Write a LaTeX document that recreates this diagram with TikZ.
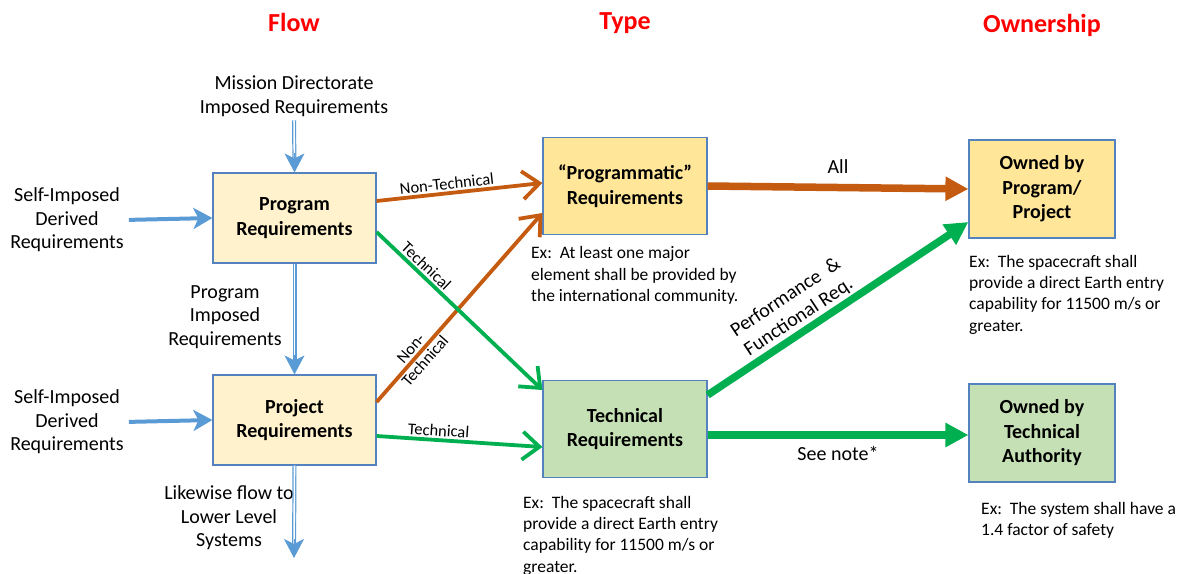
\documentclass[tikz,border=0pt]{standalone}
\usepackage{fontspec}
\setmainfont{Carlito}
\usetikzlibrary{arrows.meta}

\definecolor{flowblue}{RGB}{91,155,213}
\definecolor{boxline}{RGB}{84,130,190}
\definecolor{cream}{RGB}{255,242,204}
\definecolor{gold}{RGB}{255,230,153}
\definecolor{sage}{RGB}{197,224,180}
\definecolor{rust}{RGB}{197,90,17}
\definecolor{leaf}{RGB}{0,176,80}

\begin{document}
\begin{tikzpicture}[x=1pt,y=-1pt,
    reqbox/.style={draw=boxline, line width=1.2pt, align=center, inner sep=0pt,
      font=\bfseries\fontsize{20}{24.5}\selectfont},
    heading/.style={text=red, font=\bfseries\fontsize{26}{30}\selectfont},
    source/.style={align=center, inner sep=0pt, font=\fontsize{20}{23.5}\selectfont},
    example/.style={align=left, anchor=west, inner sep=0pt, font=\fontsize{17.5}{21.3}\selectfont},
    tag/.style={sloped, inner sep=2pt, font=\fontsize{16.5}{19}\selectfont},
    bigtag/.style={inner sep=2pt, font=\fontsize{20}{23.5}\selectfont},
    dbl/.style={draw=flowblue, line width=1.2pt, double=white, double distance=1.6pt},
    bluehead/.style={draw=flowblue, fill=flowblue, line width=0.8pt,
      -{Stealth[length=19pt,width=20pt,inset=5pt]}},
    feed/.style={draw=flowblue, line width=4pt,
      -{Stealth[length=19pt,width=21pt,inset=5pt]}},
    thinrust/.style={draw=rust, line width=3.8pt, -{Straight Barb[length=17pt,width=28pt]}},
    thinleaf/.style={draw=leaf, line width=3.8pt, -{Straight Barb[length=17pt,width=28pt]}},
    fatrust/.style={draw=rust, line width=7.5pt, -{Triangle[length=23pt,width=23pt]}},
    fatleaf/.style={draw=leaf, line width=7.5pt, -{Triangle[length=23pt,width=23pt]}}]

  \useasboundingbox (0,0) rectangle (1185,573);

  \node[heading] (flowhd)  at (294,22)  {Flow};
  \node[heading] (typehd)  at (625,23)  {Type};
  \node[heading] (ownhd)   at (1042,25) {Ownership};

  \begin{scope}[every node/.style={reqbox}]
    \node[fill=cream, minimum width=163pt, minimum height=90pt] (prog) at (294.5,218) {Program\\Requirements};
    \node[fill=cream, minimum width=163pt, minimum height=90pt] (proj) at (294.5,420) {Project\\Requirements};
    \node[fill=gold, minimum width=164pt, minimum height=97pt]  (pgm)  at (625,186)   {``Programmatic''\\Requirements};
    \node[fill=sage, minimum width=164pt, minimum height=97pt]  (tech) at (625,429)   {Technical\\Requirements};
    \node[fill=gold, minimum width=146pt, minimum height=98pt]  (ownp) at (1042,189)  {Owned by\\Program/\\Project};
    \node[fill=sage, minimum width=146pt, minimum height=98pt]  (ownt) at (1042,433)  {Owned by\\Technical\\Authority};
  \end{scope}

  \begin{scope}[every node/.style={source}]
    \node (mission) at (294,96)  {Mission Directorate\\Imposed Requirements};
    \node (self1)   at (67,220)  {Self-Imposed\\Derived\\Requirements};
    \node (self2)   at (67,422)  {Self-Imposed\\Derived\\Requirements};
    \node (handed)  at (225,317) {Program\\Imposed\\Requirements};
    \node (likewise) at (229,518) {Likewise flow to\\Lower Level\\Systems};
  \end{scope}

  \begin{scope}[every node/.style={example}]
    \node (expgm)  at (531,275.5) {Ex:\ \ At least one major\\element shall be provided by\\the international community.};
    \node (extech) at (523,535.5) {Ex:\ \ The spacecraft shall\\provide a direct Earth entry\\capability for 11500 m/s or\\greater.};
    \node (exownp) at (969,294.5) {Ex:\ \ The spacecraft shall\\provide a direct Earth entry\\capability for 11500 m/s or\\greater.};
    \node (exownt) at (981,520.5) {Ex:\ \ The system shall have a\\1.4 factor of safety};
  \end{scope}

  \coordinate (lower) at (294,558);

  \draw[dbl, shorten <=4pt, shorten >=10pt] (mission.south) -- (prog.north);
  \draw[bluehead] ([yshift=19pt]prog.north) -- (prog.north);
  \draw[dbl, shorten >=10pt] (prog.south) -- (proj.north);
  \draw[bluehead] ([yshift=19pt]proj.north) -- (proj.north);
  \draw[dbl, shorten >=10pt] (proj.south) -- (lower);
  \draw[bluehead] ([yshift=19pt]lower) -- (lower);

  \draw[feed, shorten <=5pt] (self1.east) -- (prog.west);
  \draw[feed, shorten <=5pt] (self2.east) -- (proj.west);

  \path ([yshift=17pt]prog.east)  edge[thinrust] node[tag, above, pos=.43] {Non-Technical} ([yshift=3pt]pgm.west);
  \path ([yshift=18pt]proj.east)  edge[thinrust] node[tag, align=center, pos=.25] {Non-\\Technical} ([yshift=-27pt]pgm.west);
  \path ([yshift=-14pt]prog.east) edge[thinleaf] node[tag, above, pos=.26] {Technical} ([yshift=39pt]tech.west);
  \path ([yshift=-16pt]proj.east) edge[thinleaf] node[tag, above, pos=.37] {Technical} ([yshift=-18pt]tech.west);

  \path (pgm.east) edge[fatrust] node[bigtag, above=8pt] {All} (ownp.west);
  \path ([yshift=34pt]tech.east) edge[fatleaf] node[bigtag, sloped, above, align=center, pos=.38] {Performance\ \ \&\\Functional Req.} ([yshift=-33pt]ownp.west);
  \path ([yshift=-6pt]tech.east) edge[fatleaf] node[bigtag, below=6pt] {See note*} ([yshift=-2pt]ownt.west);

\end{tikzpicture}
\end{document}
